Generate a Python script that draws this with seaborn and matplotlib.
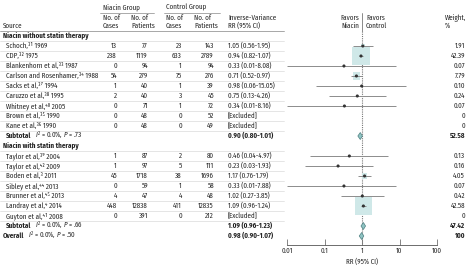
import numpy as np
import pandas as pd
import matplotlib
matplotlib.use("Agg")
import matplotlib.pyplot as plt
import seaborn as sns
from matplotlib import transforms
from matplotlib.patches import Polygon
from matplotlib.lines import Line2D

# ---------------- data ----------------
groups = ["Niacin without statin therapy", "Niacin with statin therapy"]
sources_1 = ["Schoch,\u00b3\u00b9 1969", "CDP,\u00b3\u00b2 1975", "Blankenhorn et al,\u00b3\u00b3 1987",
             "Carlson and Rosenhamer,\u00b3\u2074 1988", "Sacks et al,\u00b3\u2077 1994",
             "Caruzzo et al,\u00b3\u2078 1995", "Whitney et al,\u2074\u2070 2005",
             "Brown et al,\u00b3\u2075 1990", "Kane et al,\u00b3\u2076 1990"]
niacin_cases_1 = [13, 238, 0, 54, 1, 2, 0, 0, 0]
niacin_pts_1 = [77, 1119, 94, 279, 40, 40, 71, 48, 48]
control_cases_1 = [23, 633, 1, 75, 1, 3, 1, 0, 0]
control_pts_1 = [143, 2789, 94, 276, 39, 45, 72, 52, 49]
rr_1 = [1.05, 0.94, 0.33, 0.71, 0.98, 0.75, 0.34, None, None]
lo_1 = [0.56, 0.82, 0.01, 0.52, 0.06, 0.13, 0.01, None, None]
hi_1 = [1.95, 1.07, 8.08, 0.97, 15.05, 4.26, 8.16, None, None]
weight_1 = [1.91, 42.39, 0.07, 7.79, 0.10, 0.24, 0.07, 0, 0]

sources_2 = ["Taylor et al,\u00b3\u2079 2004", "Taylor et al,\u2074\u00b2 2009", "Boden et al,\u00b3 2011",
             "Sibley et al,\u2074\u2074 2013", "Brunner et al,\u2074\u2075 2013",
             "Landray et al,\u2074 2014", "Guyton et al,\u2074\u00b9 2008"]
niacin_cases_2 = [1, 1, 45, 0, 4, 448, 0]
niacin_pts_2 = [87, 97, 1718, 59, 47, 12838, 391]
control_cases_2 = [2, 5, 38, 1, 4, 411, 0]
control_pts_2 = [80, 111, 1696, 58, 48, 12835, 212]
rr_2 = [0.46, 0.23, 1.17, 0.33, 1.02, 1.09, None]
lo_2 = [0.04, 0.03, 0.76, 0.01, 0.27, 0.96, None]
hi_2 = [4.97, 1.93, 1.79, 7.88, 3.85, 1.24, None]
weight_2 = [0.13, 0.16, 4.05, 0.07, 0.42, 42.58, 0]

summary_labels = ["Subtotal", "Subtotal", "Overall"]
summary_stats = [r"$I^{2}$ = 0.0%, $P$ = .73", r"$I^{2}$ = 0.0%, $P$ = .66", r"$I^{2}$ = 0.0%, $P$ = .50"]
summary_rr = [0.90, 1.09, 0.98]
summary_lo = [0.80, 0.96, 0.90]
summary_hi = [1.01, 1.23, 1.07]
summary_weight = ["52.58", "47.42", "100"]

x_ticks = [0.01, 0.1, 1, 10, 100]
x_ticklabels = ["0.01", "0.1", "1", "10", "100"]

# ---------------- style ----------------
sns.set_theme(style="white")
FONT = "Fira Sans Condensed"
plt.rcParams["font.family"] = [FONT, "DejaVu Sans"]
plt.rcParams["mathtext.fontset"] = "custom"
plt.rcParams["mathtext.rm"] = FONT
plt.rcParams["mathtext.it"] = FONT + ":italic"
plt.rcParams["mathtext.bf"] = FONT + ":bold"

TXT = "#222222"
FS = 5.0
BOX = "#cfe8e8"
DIA_FILL = "#8fc3c3"
DIA_EDGE = "#4d7f80"
CI = "#8c8c8c"
SEP = "#dadada"

W, H = 467, 270
fig = plt.figure(figsize=(W / 100, H / 100), dpi=100)
ax = fig.add_axes([287 / W, 25 / H, 150 / W, 245 / H])
ax.set_xscale("log")
ax.set_xlim(0.01, 100)
ax.set_ylim(19.9, -4.6)

# row layout
rows_1 = list(range(0, 9))
rows_2 = list(range(11, 18))
header_rows = [-1, 10]
summary_rows = [9, 18, 19]

df = pd.DataFrame({
    "source": sources_1 + sources_2,
    "nc": niacin_cases_1 + niacin_cases_2,
    "np": niacin_pts_1 + niacin_pts_2,
    "cc": control_cases_1 + control_cases_2,
    "cp": control_pts_1 + control_pts_2,
    "rr": rr_1 + rr_2,
    "lo": lo_1 + lo_2,
    "hi": hi_1 + hi_2,
    "w": weight_1 + weight_2,
    "row": rows_1 + rows_2,
})
plotted = df.dropna(subset=["rr"]).copy()
for c in ["rr", "lo", "hi", "w"]:
    plotted[c] = plotted[c].astype(float)

# reference lines
ax.plot([1, 1], [-1.5, 19.9], color="#777777", lw=0.8, ls=(0, (1, 1)), zorder=1)
ax.plot([1, 1], [-3.3, -1.5], color="#777777", lw=0.6, zorder=1, clip_on=False)

# weight boxes (area proportional to weight)
sns.scatterplot(data=plotted, x="rr", y="row", size="w", sizes=(0, 360), size_norm=(0, 100),
                marker="s", color=BOX, edgecolor="none", linewidth=0, legend=False, ax=ax, zorder=2)
# CIs
ax.hlines(plotted["row"], plotted["lo"], plotted["hi"], color=CI, lw=0.7, zorder=3)
# point estimates
sns.scatterplot(data=plotted, x="rr", y="row", marker="o", s=5, color="#333333",
                edgecolor="none", linewidth=0, legend=False, ax=ax, zorder=4)

# diamonds
for r, m, lo, hi in zip(summary_rows, summary_rr, summary_lo, summary_hi):
    lo_d = min(lo, m * 0.86)
    hi_d = max(hi, m * 1.14)
    poly = Polygon([[lo_d, r], [m, r - 0.35], [hi_d, r], [m, r + 0.35]], closed=True,
                   facecolor=DIA_FILL, edgecolor=DIA_EDGE, lw=0.5, zorder=4)
    ax.add_patch(poly)

# axes styling
for s in ["top", "left", "right"]:
    ax.spines[s].set_visible(False)
ax.spines["bottom"].set_color("#555555")
ax.spines["bottom"].set_linewidth(0.6)
ax.set_yticks([])
ax.set_xticks(x_ticks)
ax.set_xticklabels(x_ticklabels, fontsize=FS, color=TXT)
ax.tick_params(axis="x", which="major", direction="in", length=4, width=0.5, color="#555555", pad=2, bottom=True)
ax.tick_params(axis="x", which="minor", direction="in", length=2, width=0.4, color="#555555", bottom=True)
ax.set_xlabel("RR (95% CI)", fontsize=FS, color=TXT, labelpad=2)
ax.set_ylabel("")
ax.patch.set_alpha(0)

# ---------------- table text ----------------
tr = transforms.blended_transform_factory(fig.transFigure, ax.transData)
renderer = fig.canvas.get_renderer()


def fx(px):
    return px / W


def put(px, row, s, ha="left", bold=False, **kw):
    return fig.text(fx(px), row, s, transform=tr, ha=ha, va="center", fontsize=FS, color=TXT,
                    fontweight="bold" if bold else "normal", **kw)


# headers
put(103, -3.85, "Niacin Group")
put(166, -3.85, "Control Group")
fig.add_artist(Line2D([fx(100), fx(154)], [-3.35, -3.35], transform=tr, color="#888888", lw=0.5))
fig.add_artist(Line2D([fx(164), fx(220)], [-3.35, -3.35], transform=tr, color="#888888", lw=0.5))
put(103, -2.8, "No. of")
put(103, -2.0, "Cases")
put(131, -2.8, "No. of")
put(131, -2.0, "Patients")
put(166, -2.8, "No. of")
put(166, -2.0, "Cases")
put(194, -2.8, "No. of")
put(194, -2.0, "Patients")
put(228, -2.8, "Inverse-Variance")
put(228, -2.0, "RR (95% CI)")
put(3, -2.0, "Source")
put(359, -2.8, "Favors", ha="right")
put(359, -2.0, "Niacin", ha="right")
put(366, -2.8, "Favors")
put(366, -2.0, "Control")
put(445, -2.8, "Weight,")
put(445, -2.0, "%")
fig.add_artist(Line2D([0, fx(284)], [-1.5, -1.5], transform=tr, color="#999999", lw=0.6))

# group headers
for r, g in zip(header_rows, groups):
    put(3, r, g, bold=True)

# study rows
for _, d in df.iterrows():
    r = d["row"]
    put(6, r, d["source"])
    put(117, r, str(d["nc"]), ha="right")
    put(148, r, str(d["np"]), ha="right")
    put(182, r, str(d["cc"]), ha="right")
    put(214, r, str(d["cp"]), ha="right")
    if pd.isna(d["rr"]):
        put(228, r, "[Excluded]")
    else:
        put(228, r, f"{d['rr']:.2f} ({d['lo']:.2f}-{d['hi']:.2f})")
    wtxt = "0" if d["w"] == 0 else f"{d['w']:.2f}"
    put(465, r, wtxt, ha="right")

# separators
sep_rows = [-1] + rows_1 + [10] + rows_2
for r in sep_rows:
    fig.add_artist(Line2D([0, fx(284)], [r + 0.5, r + 0.5], transform=tr, color=SEP, lw=0.5))

# summary rows
sum_x = [6, 6, 3]
for r, lab, st, m, lo, hi, w, x0 in zip(summary_rows, summary_labels, summary_stats,
                                      summary_rr, summary_lo, summary_hi, summary_weight, sum_x):
    t = put(x0, r, lab, bold=True)
    bb = t.get_window_extent(renderer)
    put(bb.x1 + 3.5, r, st)
    put(228, r, f"{m:.2f} ({lo:.2f}-{hi:.2f})", bold=True)
    put(465, r, w, ha="right", bold=True)

fig.savefig("out.png", dpi=100)
